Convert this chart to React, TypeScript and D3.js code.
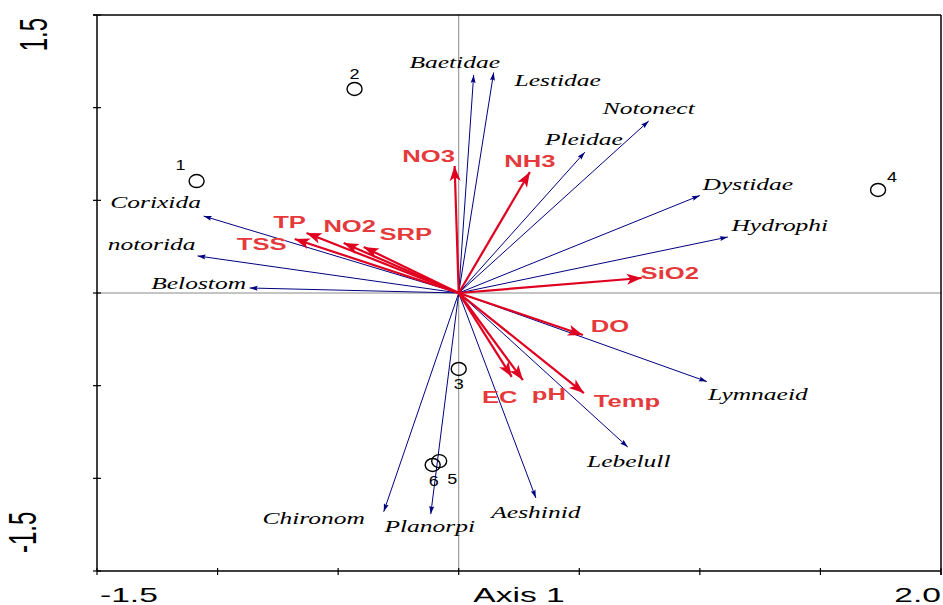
import React from "react";
import * as d3 from "d3";

// CCA biplot: species arrows (navy), environment arrows (red), sample points
const speciesNames = ["Baetidae", "Lestidae", "Notonect", "Pleidae", "Dystidae", "Hydrophi", "Corixida", "notorida", "Belostom", "Lymnaeid", "Lebelull", "Aeshinid", "Planorpi", "Chironom"];
const speciesAx1 = [0.062, 0.145, 0.788, 0.523, 1.0, 1.116, -1.058, -1.083, -0.867, 1.029, 0.701, 0.32, -0.116, -0.311];
const speciesAx2 = [1.176, 1.19, 0.928, 0.76, 0.526, 0.302, 0.415, 0.2, 0.027, -0.478, -0.831, -1.106, -1.193, -1.18];

const envNames = ["NO3", "NH3", "TP", "TSS", "NO2", "SRP", "SiO2", "DO", "EC", "pH", "Temp"];
const envAx1 = [-0.017, 0.295, -0.631, -0.68, -0.477, -0.394, 0.759, 0.515, 0.22, 0.266, 0.519];
const envAx2 = [0.685, 0.653, 0.324, 0.291, 0.27, 0.248, 0.081, -0.227, -0.453, -0.47, -0.54];

const sampleIds = ["1", "2", "3", "4", "5", "6"];
const sampleAx1 = [-1.087, -0.432, 0, 1.739, -0.081, -0.108];
const sampleAx2 = [0.604, 1.101, -0.41, 0.556, -0.907, -0.928];

const xDomain = [-1.5, 2.0];
const yDomain = [-1.5, 1.5];
const xTickLabels = ["-1.5", "2.0"];
const yTickLabels = ["-1.5", "1.5"];
const xTitle = "Axis 1";

// label offsets (px) from arrow tips
const speciesLabelOffset: Record<string, [number, number]> = {
  Baetidae: [-19, -7], Lestidae: [64, 14], Notonect: [0, -7], Pleidae: [-1, -7],
  Dystidae: [48, -6], Hydrophi: [52, -6], Corixida: [-48, -8], notorida: [-46, -6],
  Belostom: [-51, 1], Lymnaeid: [51, 18], Lebelull: [1, 20], Aeshinid: [0, 20],
  Planorpi: [-1, 18], Chironom: [-70, 12],
};
const envLabelOffset: Record<string, [number, number]> = {
  NO3: [-26, -4], NH3: [0, -5], TP: [-17, -5], TSS: [-33, 11], NO2: [6, -11],
  SRP: [42, -7], SiO2: [28, 1], DO: [27, -3], EC: [-12, 26], pH: [26, 20], Temp: [43, 14],
};
const sampleLabelOffset: Record<string, [number, number]> = {
  "1": [-16, -11], "2": [0, -10], "3": [0, 20], "4": [14, -8], "5": [13, 23], "6": [1, 21],
};

const W = 943;
const H = 605;
const SX = 1.6; // horizontal stretch of the original picture

const x = d3.scaleLinear().domain(xDomain).range([97, 941]);
const y = d3.scaleLinear().domain(yDomain).range([571, 15]);

function head(x0: number, y0: number, x1: number, y1: number, len: number, wid: number, notch = 0) {
  const dx = x1 - x0, dy = y1 - y0;
  const d = Math.sqrt(dx * dx + dy * dy) || 1;
  const ux = dx / d, uy = dy / d;
  const nx = -uy, ny = ux;
  const bx = x1 - ux * len, by = y1 - uy * len;
  const mx = x1 - ux * len * (1 - notch), my = y1 - uy * len * (1 - notch);
  const pts = [
    [x1, y1],
    [bx + nx * wid / 2, by + ny * wid / 2],
    [mx, my],
    [bx - nx * wid / 2, by - ny * wid / 2],
  ];
  return pts.map(p => p.join(",")).join(" ");
}

const T = (px: number, py: number, sx = SX) => `translate(${px},${py}) scale(${sx},1)`;

export default function App() {
  const ox = x(0), oy = y(0);
  const [x0, x1] = x.range();
  const [yb, yt] = y.range();
  const xt = x.ticks(7);
  const yt2 = y.ticks(6);
  return (
    <svg width={W} height={H} style={{ position: "absolute", left: 0, top: 0, background: "#fff" }}>
      {/* origin lines */}
      <line x1={ox} x2={ox} y1={yt} y2={yb} stroke="#8a8a8a" strokeWidth={1} />
      <line x1={x0} x2={x1} y1={oy} y2={oy} stroke="#8a8a8a" strokeWidth={1} />

      {/* frame */}
      <line x1={x0} x2={x0} y1={yt} y2={yb} stroke="#000" strokeWidth={1.5} />
      <line x1={x0} x2={x1} y1={yb} y2={yb} stroke="#000" strokeWidth={1.5} />
      <line x1={x0 - 4} x2={x1} y1={yt} y2={yt} stroke="#000" strokeWidth={1.5} />
      <line x1={x1} x2={x1} y1={yt} y2={yb + 4} stroke="#000" strokeWidth={1.5} />
      {xt.map(v => (
        <line key={"xt" + v} x1={x(v)} x2={x(v)} y1={yb - 3} y2={yb + 4} stroke="#000" strokeWidth={1.2} />
      ))}
      {yt2.map(v => (
        <line key={"yt" + v} x1={x0 - 4} x2={x0 + 4} y1={y(v)} y2={y(v)} stroke="#000" strokeWidth={1.2} />
      ))}

      {/* axis labels */}
      <g fontFamily="Liberation Sans, Arial, sans-serif" fill="#000">
        <text transform={T(x(xDomain[0]) + 3, 602)} fontSize={21} textAnchor="start">{xTickLabels[0]}</text>
        <text transform={T(x(xDomain[1]), 602)} fontSize={21} textAnchor="end">{xTickLabels[1]}</text>
        <text transform={T((x0 + x1) / 2, 602)} fontSize={21} textAnchor="middle">{xTitle}</text>
        <text transform={`translate(47,${y(yDomain[1]) + 3}) scale(${SX},1) rotate(-90)`} fontSize={24} textAnchor="end">{yTickLabels[1]}</text>
        <text transform={`translate(36,${y(yDomain[0]) - 18}) scale(${SX},1) rotate(-90)`} fontSize={24} textAnchor="start">{yTickLabels[0]}</text>
      </g>

      {/* species arrows */}
      {speciesNames.map((n, i) => {
        const px = x(speciesAx1[i]), py = y(speciesAx2[i]);
        return (
          <g key={n}>
            <line x1={ox} y1={oy} x2={px} y2={py} stroke="#000080" strokeWidth={1} />
            <polygon points={head(ox, oy, px, py, 8, 5, 0.15)} fill="#000080" />
          </g>
        );
      })}

      {/* environment arrows */}
      {envNames.map((n, i) => {
        const px = x(envAx1[i]), py = y(envAx2[i]);
        return (
          <g key={n}>
            <line x1={ox} y1={oy} x2={px} y2={py} stroke="#e0001f" strokeWidth={2.2} />
            <polygon points={head(ox, oy, px, py, 15, 11, 0.25)} fill="#e0001f" />
          </g>
        );
      })}

      {/* species labels */}
      <g fontFamily="Liberation Serif, Times New Roman, serif" fontStyle="italic" fontSize={17} fill="#000">
        {speciesNames.map((n, i) => {
          const [dx, dy] = speciesLabelOffset[n];
          return (
            <text key={n} transform={T(x(speciesAx1[i]) + dx, y(speciesAx2[i]) + dy, 1.5)} textAnchor="middle">{n}</text>
          );
        })}
      </g>

      {/* environment labels */}
      <g fontFamily="Liberation Sans, Arial, sans-serif" fontWeight="bold" fontSize={16} fill="#e53a3c">
        {envNames.map((n, i) => {
          const [dx, dy] = envLabelOffset[n];
          return (
            <text key={n} transform={T(x(envAx1[i]) + dx, y(envAx2[i]) + dy)} textAnchor="middle">{n}</text>
          );
        })}
      </g>

      {/* samples */}
      {sampleIds.map((s, i) => {
        const px = x(sampleAx1[i]), py = y(sampleAx2[i]);
        const [dx, dy] = sampleLabelOffset[s];
        return (
          <g key={s}>
            <ellipse cx={px} cy={py} rx={7.5} ry={6.5} fill="none" stroke="#000" strokeWidth={1.4} />
            <text transform={T(px + dx, py + dy, 1.2)} textAnchor="middle" fontFamily="Liberation Sans, Arial, sans-serif" fontSize={15} fill="#000">{s}</text>
          </g>
        );
      })}
    </svg>
  );
}
